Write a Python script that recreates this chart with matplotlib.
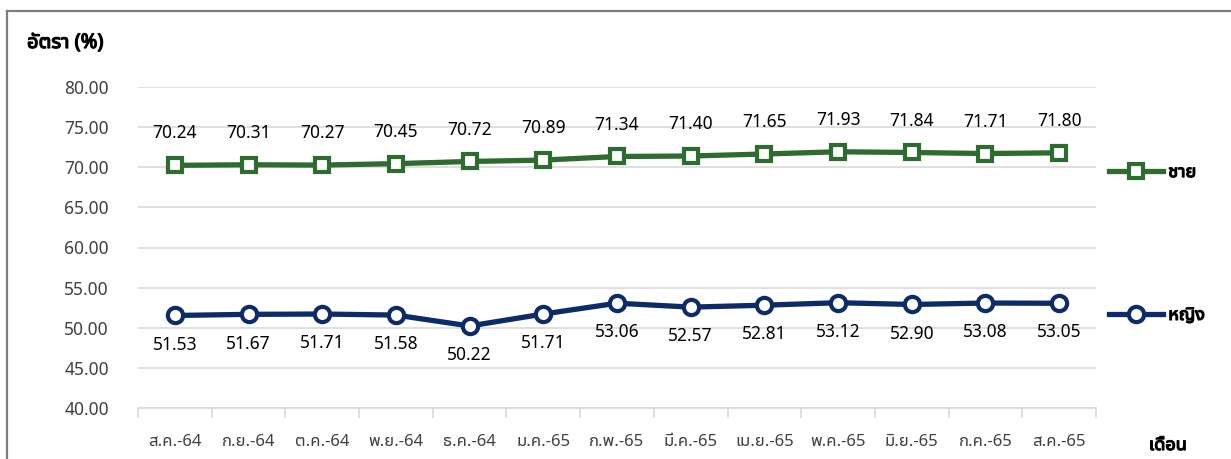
import matplotlib
matplotlib.use('Agg')
import matplotlib.pyplot as plt
import matplotlib.patheffects as pe
import numpy as np
from matplotlib.lines import Line2D

# ข้อมูล
months = ['ส.ค.-64', 'ก.ย.-64', 'ต.ค.-64', 'พ.ย.-64', 'ธ.ค.-64', 'ม.ค.-65', 'ก.พ.-65',
          'มี.ค.-65', 'เม.ย.-65', 'พ.ค.-65', 'มิ.ย.-65', 'ก.ค.-65', 'ส.ค.-65']
male = [70.24, 70.31, 70.27, 70.45, 70.72, 70.89, 71.34, 71.40, 71.65, 71.93, 71.84, 71.71, 71.80]
female = [51.53, 51.67, 51.71, 51.58, 50.22, 51.71, 53.06, 52.57, 52.81, 53.12, 52.90, 53.08, 53.05]
y_ticks = [40, 45, 50, 55, 60, 65, 70, 75, 80]

fonts = ['Noto Sans', 'Noto Sans Thai UI']
plt.rcParams['font.family'] = fonts

green = '#2E6B2F'
navy = '#0C2B68'
# ตัวหนาแบบเส้นขอบ (ฟอนต์ไทยตัวหนาอาจไม่มี)
bold = [pe.withStroke(linewidth=0.9, foreground='black')]

fig = plt.figure(figsize=(12.31, 4.59), dpi=100)
ax = fig.add_axes([138/1231, 1 - 408/459, (1096 - 138)/1231, (408 - 87)/459])

x = np.arange(len(months))
l1, = ax.plot(x, male, color=green, lw=3.8, marker='s', ms=10, mfc='white',
              mec=green, mew=3, label='ชาย', zorder=3)
l2, = ax.plot(x, female, color=navy, lw=3.8, marker='o', ms=11, mfc='white',
              mec=navy, mew=3, label='หญิง', zorder=3)

# ป้ายค่าข้อมูล
for xi, v in zip(x, male):
    ax.annotate(f'{v:.2f}', (xi, v), xytext=(0, 23), textcoords='offset points',
                ha='center', va='center', fontsize=12.5, color='black')
for xi, v in zip(x, female):
    ax.annotate(f'{v:.2f}', (xi, v), xytext=(0, -21), textcoords='offset points',
                ha='center', va='center', fontsize=12.5, color='black')

ax.set_xlim(-0.5, len(months) - 0.5)
ax.set_ylim(40, 80)
ax.set_yticks(y_ticks)
ax.set_yticklabels([f'{t:.2f}' for t in y_ticks], fontsize=12.5, color='#404040')
ax.set_xticks(x)
ax.set_xticklabels(months, fontsize=12, color='#404040')
ax.set_xticks(np.arange(-0.5, len(months)), minor=True)
ax.tick_params(axis='x', which='major', length=0, pad=19)
ax.tick_params(axis='x', which='minor', length=7, color='#D9D9D9', width=1.2)
ax.tick_params(axis='y', length=0, pad=21)
ax.grid(axis='y', color='#D9D9D9', lw=1.2)
ax.set_axisbelow(True)
for s in ['top', 'right', 'left']:
    ax.spines[s].set_visible(False)
ax.spines['bottom'].set_color('#D9D9D9')
ax.spines['bottom'].set_linewidth(1.2)

# คำอธิบาย
leg1 = ax.legend(handles=[l1], loc='center left', bbox_to_anchor=(1.0, (69.4 - 40) / 40),
                 frameon=False, handlelength=3.0, handletextpad=0.3, borderaxespad=0.3,
                 prop={'family': fonts, 'size': 13})
for t in leg1.get_texts():
    t.set_path_effects(bold)
ax.add_artist(leg1)
leg2 = ax.legend(handles=[l2], loc='center left', bbox_to_anchor=(1.0, (51.6 - 40) / 40),
                 frameon=False, handlelength=3.0, handletextpad=0.3, borderaxespad=0.3,
                 prop={'family': fonts, 'size': 13})
for t in leg2.get_texts():
    t.set_path_effects(bold)

fig.text(27/1231, 1 - 43/459, 'อัตรา (%)', fontsize=14.5, va='center', ha='left',
         path_effects=bold)
fig.text(1168/1231, 1 - 445/459, 'เดือน', fontsize=13, va='center', ha='center',
         path_effects=bold)

# กรอบ
fig.add_artist(Line2D([7/1231, 7/1231], [0, 1 - 11/459], color='#7F7F7F', lw=1.6))
fig.add_artist(Line2D([7/1231, 1], [1 - 11/459, 1 - 11/459], color='#7F7F7F', lw=1.6))

fig.savefig('out.png', dpi=100)
